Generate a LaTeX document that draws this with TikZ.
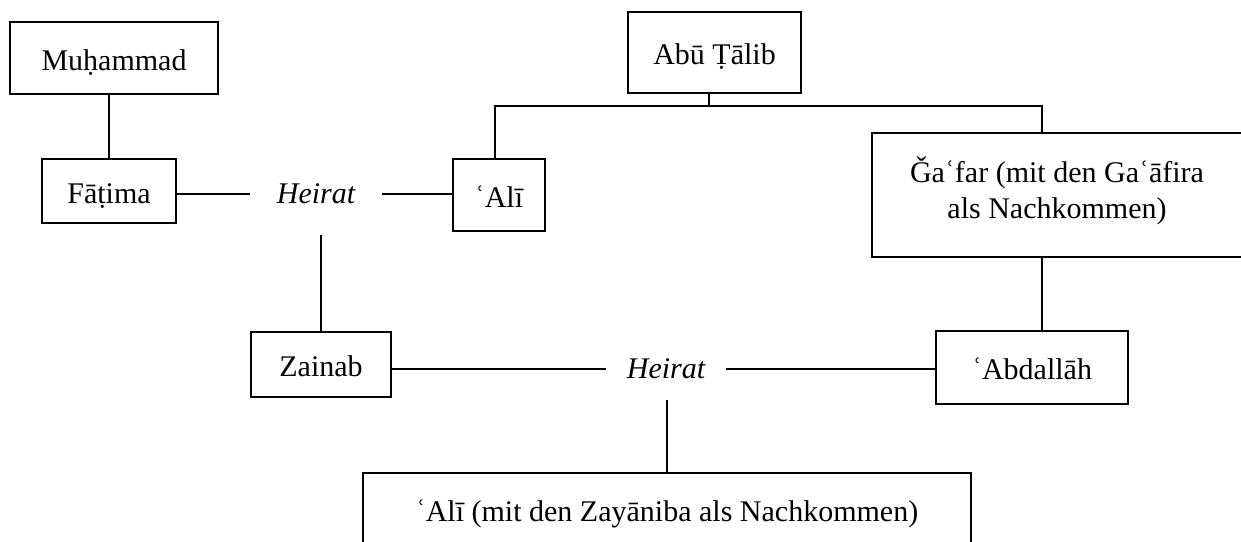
\documentclass[tikz,border=0pt]{standalone}
\usepackage{fontspec}
\setmainfont{Liberation Serif}
\begin{document}
\begin{tikzpicture}[
    x=0.5pt, y=-0.5pt,
    person/.style={draw, line width=0.9pt, inner sep=0pt, align=center, text height=12pt, text depth=0pt, font=\fontsize{15}{18}\selectfont},
    marriage/.style={inner ysep=0pt, font=\fontsize{15}{18}\selectfont\itshape},
    line/.style={draw, line width=0.8pt}
]
    \useasboundingbox (0,0) rectangle (1241,541);

    \node [person, minimum width=104pt, minimum height=36pt] (muhammad) at (114,58) {Muḥammad};
    \node [person, minimum width=67pt, minimum height=32pt] (fatima) at (109,191) {Fāṭima};
    \node [marriage, inner xsep=13pt, minimum height=41pt] (heiratA) at (316,194) {Heirat};
    \node [person, minimum width=46pt, minimum height=36pt] (ali) at (499,195) {ʿAlī};

    \node [person, minimum width=86.5pt, minimum height=40.5pt] (abutalib) at (714.5,52.5) {Abū Ṭālib};
    \node [person, minimum width=185pt, minimum height=62pt, text height=26pt, text depth=3pt] (gafar) at (1057,195) {Ǧaʿfar (mit den Gaʿāfira\\als Nachkommen)};

    \node [person, minimum width=70pt, minimum height=32.5pt] (zainab) at (321,364.5) {Zainab};
    \node [marriage, inner xsep=10pt, minimum height=31pt] (heiratB) at (666,369) {Heirat};
    \node [person, minimum width=96pt, minimum height=36.5pt] (abdallah) at (1032,367.5) {ʿAbdallāh};

    \node [person, minimum width=304pt, minimum height=36pt] (zayaniba) at (667,509) {ʿAlī (mit den Zayāniba als Nachkommen)};

    \coordinate (fork) at (709,106);

    \draw [line] (fatima.north) -- (fatima.north |- muhammad.south);
    \draw [line] (fatima.east |- heiratA.west) -- (heiratA.west);
    \draw [line] (heiratA.east) -- (heiratA.east -| ali.west);

    \draw [line] ([xshift=-2.75pt]abutalib.south) -- (fork);
    \draw [line] ([xshift=-2pt]ali.north) |- (fork) -| ([xshift=-7.5pt]gafar.north);
    \draw [line] ([xshift=-7.5pt]gafar.south) -- ([xshift=-7.5pt]gafar.south |- abdallah.north);

    \draw [line] (heiratA.south -| zainab.north) -- (zainab.north);
    \draw [line] (zainab.east |- heiratB.west) -- (heiratB.west);
    \draw [line] (heiratB.east) -- (heiratB.east -| abdallah.west);
    \draw [line] (heiratB.south -| zayaniba.north) -- (zayaniba.north);
\end{tikzpicture}
\end{document}
